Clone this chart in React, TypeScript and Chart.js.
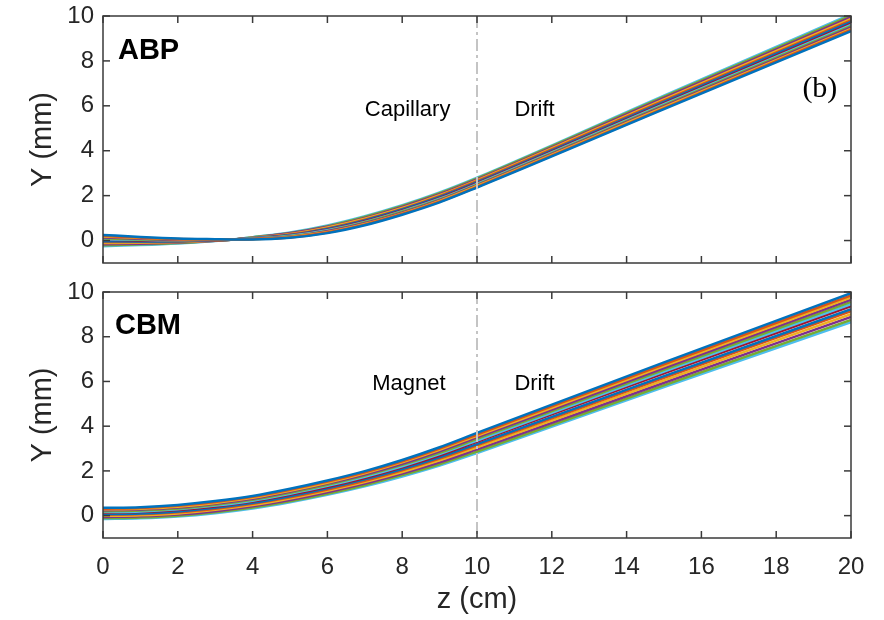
import React, { useEffect, useRef } from 'react';
import { Chart, registerables } from 'chart.js';

Chart.register(...registerables);

// ---------- data ----------
const Z_ABP = [0, 1, 2, 3, 3.5, 4, 5, 6, 7, 8, 9, 10, 15, 20];
const ABP_01 = [0.25, 0.16, 0.09, 0.06, 0.05, 0.05, 0.12, 0.33, 0.68, 1.15, 1.70, 2.36, 5.85, 9.32];
const ABP_02 = [0.21, 0.13, 0.07, 0.05, 0.05, 0.06, 0.14, 0.36, 0.71, 1.18, 1.73, 2.39, 5.89, 9.38];
const ABP_03 = [0.18, 0.11, 0.06, 0.05, 0.05, 0.06, 0.16, 0.38, 0.74, 1.21, 1.77, 2.43, 5.94, 9.43];
const ABP_04 = [0.14, 0.08, 0.04, 0.04, 0.05, 0.07, 0.17, 0.41, 0.77, 1.24, 1.80, 2.46, 5.98, 9.49];
const ABP_05 = [0.10, 0.05, 0.02, 0.04, 0.05, 0.08, 0.19, 0.43, 0.80, 1.28, 1.83, 2.49, 6.03, 9.55];
const ABP_06 = [0.06, 0.03, 0.01, 0.03, 0.05, 0.09, 0.21, 0.46, 0.83, 1.31, 1.86, 2.52, 6.07, 9.60];
const ABP_07 = [0.03, 0.00, -0.01, 0.02, 0.05, 0.09, 0.23, 0.48, 0.86, 1.34, 1.90, 2.56, 6.12, 9.66];
const ABP_08 = [-0.03, -0.04, -0.03, 0.02, 0.05, 0.11, 0.25, 0.52, 0.90, 1.38, 1.94, 2.60, 6.18, 9.74];
const ABP_09 = [-0.06, -0.07, -0.05, 0.01, 0.05, 0.11, 0.27, 0.54, 0.93, 1.41, 1.98, 2.64, 6.23, 9.80];
const ABP_10 = [-0.11, -0.10, -0.07, 0.00, 0.05, 0.12, 0.29, 0.58, 0.97, 1.45, 2.02, 2.68, 6.29, 9.87];
const ABP_11 = [-0.16, -0.14, -0.09, -0.01, 0.05, 0.13, 0.32, 0.61, 1.01, 1.50, 2.06, 2.72, 6.35, 9.95];
const ABP_12 = [-0.21, -0.17, -0.11, -0.01, 0.05, 0.14, 0.34, 0.64, 1.05, 1.54, 2.11, 2.77, 6.41, 10.02];
const ABP_13 = [-0.25, -0.20, -0.13, -0.02, 0.05, 0.15, 0.36, 0.67, 1.08, 1.57, 2.14, 2.80, 6.45, 10.08];

const Z_CBM = [0, 1, 2, 3, 4, 5, 6, 7, 8, 9, 10, 15, 20];
const CBM_01 = [0.35, 0.38, 0.48, 0.65, 0.88, 1.20, 1.57, 1.99, 2.49, 3.06, 3.70, 6.85, 9.95];
const CBM_02 = [0.31, 0.34, 0.44, 0.61, 0.84, 1.16, 1.52, 1.94, 2.43, 3.00, 3.63, 6.77, 9.85];
const CBM_03 = [0.28, 0.31, 0.40, 0.57, 0.80, 1.11, 1.47, 1.89, 2.38, 2.94, 3.57, 6.69, 9.76];
const CBM_04 = [0.24, 0.27, 0.36, 0.53, 0.75, 1.07, 1.43, 1.84, 2.32, 2.88, 3.50, 6.60, 9.66];
const CBM_05 = [0.20, 0.23, 0.32, 0.49, 0.71, 1.02, 1.38, 1.79, 2.27, 2.81, 3.43, 6.52, 9.56];
const CBM_06 = [0.16, 0.19, 0.29, 0.45, 0.67, 0.98, 1.33, 1.74, 2.21, 2.75, 3.36, 6.44, 9.46];
const CBM_07 = [0.13, 0.16, 0.25, 0.41, 0.63, 0.93, 1.28, 1.68, 2.16, 2.69, 3.30, 6.36, 9.37];
const CBM_08 = [0.07, 0.10, 0.19, 0.35, 0.57, 0.87, 1.22, 1.62, 2.08, 2.61, 3.20, 6.24, 9.23];
const CBM_09 = [0.04, 0.07, 0.15, 0.31, 0.53, 0.82, 1.17, 1.56, 2.03, 2.55, 3.14, 6.16, 9.14];
const CBM_10 = [-0.01, 0.02, 0.10, 0.26, 0.47, 0.76, 1.11, 1.50, 1.95, 2.47, 3.05, 6.05, 9.01];
const CBM_11 = [-0.06, -0.03, 0.05, 0.20, 0.42, 0.70, 1.04, 1.43, 1.88, 2.38, 2.96, 5.94, 8.88];
const CBM_12 = [-0.11, -0.08, 0.00, 0.15, 0.36, 0.64, 0.98, 1.36, 1.81, 2.30, 2.87, 5.83, 8.75];
const CBM_13 = [-0.15, -0.12, -0.04, 0.11, 0.32, 0.60, 0.93, 1.31, 1.75, 2.24, 2.80, 5.75, 8.65];

const ABP_SERIES = [ABP_01, ABP_02, ABP_03, ABP_04, ABP_05, ABP_06, ABP_07, ABP_08, ABP_09, ABP_10, ABP_11, ABP_12, ABP_13];
const CBM_SERIES = [CBM_01, CBM_02, CBM_03, CBM_04, CBM_05, CBM_06, CBM_07, CBM_08, CBM_09, CBM_10, CBM_11, CBM_12, CBM_13];

const X_TICKS = [0, 2, 4, 6, 8, 10, 12, 14, 16, 18, 20];
const Y_TICKS = [0, 2, 4, 6, 8, 10];
const DIVIDER_Z = 10;

const COLORS = ['#0072BD', '#D95319', '#EDB120', '#7E2F8E', '#77AC30', '#4DBEEE', '#A2142F'];

const SANS = '"Liberation Sans", Arial, Helvetica, sans-serif';
const SERIF = '"Liberation Serif", "Times New Roman", serif';
const TXT = '#262626';

type Label = { text: string; z: number; y: number; font: string };

const TOP_LABELS: Label[] = [
  { text: 'ABP', z: 0.4, y: 8.1, font: `bold 29px ${SANS}` },
  { text: 'Capillary', z: 7.0, y: 5.55, font: `22px ${SANS}` },
  { text: 'Drift', z: 11.0, y: 5.55, font: `22px ${SANS}` },
  { text: '(b)', z: 18.7, y: 6.4, font: `30px ${SERIF}` },
];
const BOTTOM_LABELS: Label[] = [
  { text: 'CBM', z: 0.32, y: 8.1, font: `bold 29px ${SANS}` },
  { text: 'Magnet', z: 7.2, y: 5.6, font: `22px ${SANS}` },
  { text: 'Drift', z: 11.0, y: 5.6, font: `22px ${SANS}` },
];

const framePlugin = {
  id: 'frame',
  afterDatasetsDraw(chart: any, _args: any, opts: any) {
    const { ctx, chartArea, scales } = chart;
    const { left, right, top, bottom } = chartArea;
    const x = scales.x;
    const y = scales.y;
    ctx.save();
    // dash-dot divider
    const px = x.getPixelForValue(DIVIDER_Z);
    ctx.strokeStyle = '#c4c4c4';
    ctx.lineWidth = 2;
    ctx.setLineDash([12, 4, 3, 4]);
    ctx.beginPath();
    ctx.moveTo(px, top);
    ctx.lineTo(px, bottom);
    ctx.stroke();
    ctx.setLineDash([]);
    // box
    ctx.strokeStyle = '#3a3a3a';
    ctx.lineWidth = 1.5;
    ctx.strokeRect(left, top, right - left, bottom - top);
    // inward ticks
    const seg = (a: number, b: number, c: number, d: number) => {
      ctx.beginPath();
      ctx.moveTo(a, b);
      ctx.lineTo(c, d);
      ctx.stroke();
    };
    const TL = 7;
    X_TICKS.forEach((v) => {
      const p = x.getPixelForValue(v);
      seg(p, bottom, p, bottom - TL);
      seg(p, top, p, top + TL);
    });
    Y_TICKS.forEach((v) => {
      const p = y.getPixelForValue(v);
      seg(left, p, left + TL, p);
      seg(right, p, right - TL, p);
    });
    // labels
    ctx.fillStyle = '#000';
    ctx.textBaseline = 'alphabetic';
    ctx.textAlign = 'left';
    (opts.labels || []).forEach((l: Label) => {
      ctx.font = l.font;
      ctx.fillText(l.text, x.getPixelForValue(l.z), y.getPixelForValue(l.y));
    });
    ctx.restore();
  },
};

function buildDatasets(zs: number[], series: number[][]) {
  return series.map((s, i) => ({
    label: `t${i + 1}`,
    data: s.map((v, k) => ({ x: zs[k], y: v })),
    borderColor: COLORS[i % COLORS.length],
    borderWidth: 2.5,
    pointRadius: 0,
    fill: false,
    cubicInterpolationMode: 'monotone' as const,
  }));
}

function makeOptions(showX: boolean, labels: Label[], padTop: number, padBottom: number) {
  return {
    animation: false as const,
    responsive: false,
    devicePixelRatio: 1,
    layout: { padding: { left: 0, right: 33, top: padTop, bottom: padBottom } },
    plugins: {
      legend: { display: false },
      tooltip: { enabled: false },
      frame: { labels },
    },
    scales: {
      x: {
        type: 'linear' as const,
        min: 0,
        max: 20,
        display: showX,
        afterBuildTicks: (s: any) => {
          s.ticks = X_TICKS.map((v) => ({ value: v }));
        },
        afterFit: (s: any) => {
          if (showX) s.height = 82;
        },
        grid: { display: false, drawTicks: false },
        border: { display: false },
        ticks: { font: { family: SANS, size: 24 }, color: TXT, padding: 15, maxRotation: 0, autoSkip: false },
        title: {
          display: showX,
          text: 'z (cm)',
          color: TXT,
          font: { family: SANS, size: 29 },
          padding: { top: 0, bottom: 3 },
        },
      },
      y: {
        type: 'linear' as const,
        min: -1,
        max: 10,
        afterBuildTicks: (s: any) => {
          s.ticks = Y_TICKS.map((v) => ({ value: v }));
        },
        afterFit: (s: any) => {
          s.width = 103;
        },
        grid: { display: false, drawTicks: false },
        border: { display: false },
        ticks: { font: { family: SANS, size: 24, lineHeight: 0.3 }, color: TXT, padding: 9 },
        title: {
          display: true,
          text: 'Y (mm)',
          color: TXT,
          font: { family: SANS, size: 29 },
          padding: { top: 26, bottom: 0 },
        },
      },
    },
  };
}

export default function App() {
  const topRef = useRef<HTMLCanvasElement | null>(null);
  const botRef = useRef<HTMLCanvasElement | null>(null);

  useEffect(() => {
    const c1 = new Chart(topRef.current as HTMLCanvasElement, {
      type: 'line',
      data: { datasets: buildDatasets(Z_ABP, ABP_SERIES) as any },
      options: makeOptions(false, TOP_LABELS, 16, 13) as any,
      plugins: [framePlugin],
    });
    const c2 = new Chart(botRef.current as HTMLCanvasElement, {
      type: 'line',
      data: { datasets: buildDatasets(Z_CBM, CBM_SERIES) as any },
      options: makeOptions(true, BOTTOM_LABELS, 16, 0) as any,
      plugins: [framePlugin],
    });
    return () => {
      c1.destroy();
      c2.destroy();
    };
  }, []);

  return (
    <div style={{ position: 'fixed', left: 0, top: 0, width: 884, height: 620, background: '#fff' }}>
      <canvas ref={topRef} width={884} height={276} style={{ position: 'absolute', left: 0, top: 0 }} />
      <canvas ref={botRef} width={884} height={344} style={{ position: 'absolute', left: 0, top: 276 }} />
    </div>
  );
}
